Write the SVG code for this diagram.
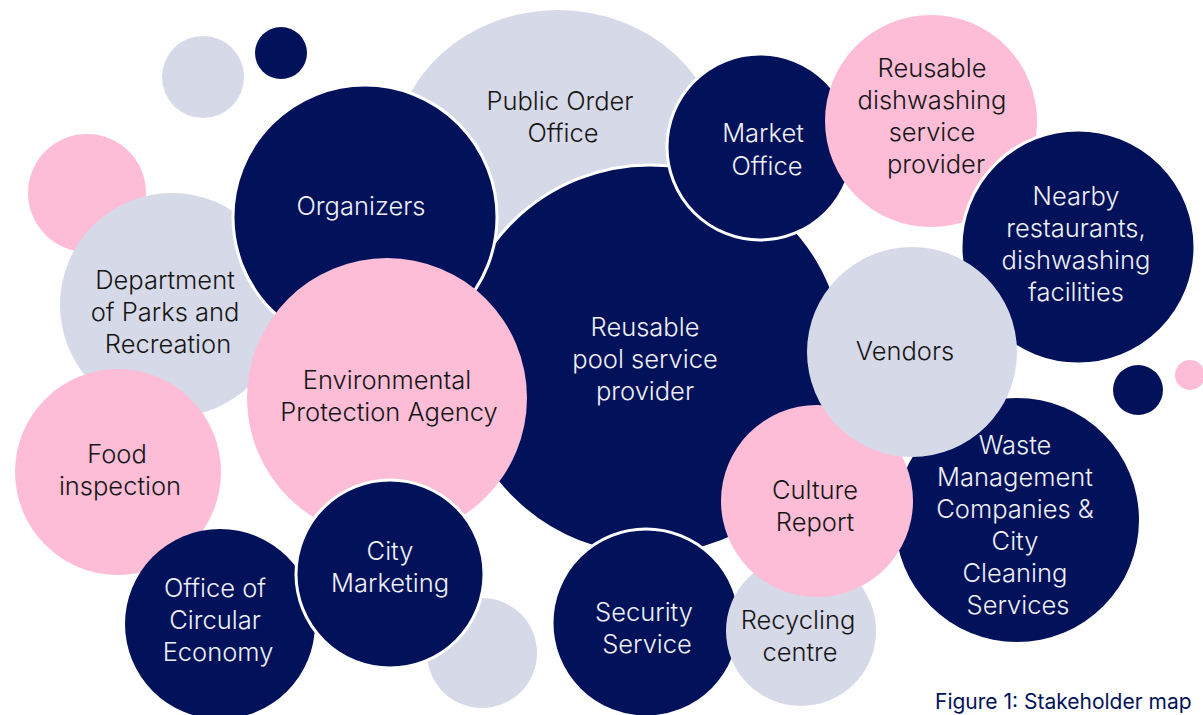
<svg xmlns="http://www.w3.org/2000/svg" width="1203" height="715" viewBox="0 0 1203 715">
  <style>
    .navy { fill: #02125a; }
    .grey { fill: #d6d9e8; }
    .pink { fill: #fdbdd7; }
    .edge { stroke: #ffffff; stroke-width: 3; }
    text { font-family: Inter, "Noto Sans", "Liberation Sans", sans-serif; font-size: 25.5px; font-weight: 300; text-anchor: middle; }
    .dark { fill: #161616; }
    .light { fill: #eef0f7; }
    .caption { font-size: 21px; font-weight: 400; text-anchor: start; fill: #02125a; }
  </style>
  <rect width="1203" height="715" fill="#ffffff"/>

  <!-- decorative bubbles -->
  <g id="decor-top">
    <circle class="grey" cx="203" cy="77" r="41"/>
    <circle class="navy" cx="281" cy="53" r="26"/>
    <circle class="pink" cx="87" cy="193" r="59"/>
  </g>

  <g id="public-order-office">
    <ellipse class="grey" cx="558" cy="160" rx="165" ry="150"/>
    <text class="dark" x="560" y="110">Public Order</text>
    <text class="dark" x="563" y="142">Office</text>
  </g>

  <g id="parks-recreation">
    <circle class="grey" cx="172" cy="305" r="112"/>
    <text class="dark" x="165" y="289">Department</text>
    <text class="dark" x="165" y="321">of Parks and</text>
    <text class="dark" x="168" y="353">Recreation</text>
  </g>

  <g id="pool-provider">
    <circle class="navy edge" cx="650" cy="360" r="195"/>
    <text class="light" x="645" y="336">Reusable</text>
    <text class="light" x="645" y="368">pool service</text>
    <text class="light" x="645" y="400">provider</text>
  </g>

  <g id="organizers">
    <circle class="navy edge" cx="365" cy="217" r="132"/>
    <text class="light" x="361" y="215">Organizers</text>
  </g>

  <g id="market-office">
    <circle class="navy edge" cx="760" cy="147" r="93"/>
    <text class="light" x="763" y="142">Market</text>
    <text class="light" x="767" y="175">Office</text>
  </g>

  <g id="dishwashing-provider">
    <circle class="pink" cx="931" cy="121" r="106"/>
    <text class="dark" x="932" y="77">Reusable</text>
    <text class="dark" x="932" y="109">dishwashing</text>
    <text class="dark" x="932" y="141">service</text>
    <text class="dark" x="936" y="173">provider</text>
  </g>

  <g id="nearby-restaurants">
    <circle class="navy edge" cx="1078" cy="247" r="117"/>
    <text class="light" x="1076" y="205">Nearby</text>
    <text class="light" x="1076" y="237">restaurants,</text>
    <text class="light" x="1076" y="269">dishwashing</text>
    <text class="light" x="1076" y="301">facilities</text>
  </g>

  <g id="food-inspection">
    <circle class="pink" cx="118" cy="472" r="103"/>
    <text class="dark" x="117" y="463">Food</text>
    <text class="dark" x="120" y="495">inspection</text>
  </g>

  <g id="environmental-agency">
    <circle class="pink" cx="387" cy="398" r="140"/>
    <text class="dark" x="387" y="389">Environmental</text>
    <text class="dark" x="389" y="421">Protection Agency</text>
  </g>

  <g id="circular-economy">
    <circle class="navy" cx="220" cy="624" r="95"/>
    <text class="light" x="215" y="597">Office of</text>
    <text class="light" x="215" y="629">Circular</text>
    <text class="light" x="218" y="661">Economy</text>
  </g>

  <g id="decor-bottom">
    <circle class="grey" cx="482" cy="653" r="55"/>
  </g>

  <g id="city-marketing">
    <circle class="navy edge" cx="390" cy="574" r="94"/>
    <text class="light" x="390" y="560">City</text>
    <text class="light" x="390" y="592">Marketing</text>
  </g>

  <g id="waste-management">
    <circle class="navy" cx="1017" cy="520" r="122"/>
    <text class="light" x="1015" y="454">Waste</text>
    <text class="light" x="1015" y="486">Management</text>
    <text class="light" x="1015" y="518">Companies &amp;</text>
    <text class="light" x="1015" y="550">City</text>
    <text class="light" x="1015" y="582">Cleaning</text>
    <text class="light" x="1018" y="614">Services</text>
  </g>

  <g id="security-service">
    <circle class="navy edge" cx="646" cy="623" r="94"/>
    <text class="light" x="644" y="621">Security</text>
    <text class="light" x="647" y="653">Service</text>
  </g>

  <g id="recycling-centre">
    <circle class="grey" cx="801" cy="631" r="75"/>
    <text class="dark" x="798" y="629">Recycling</text>
    <text class="dark" x="800" y="661">centre</text>
  </g>

  <g id="culture-report">
    <circle class="pink" cx="817" cy="501" r="96"/>
    <text class="dark" x="815" y="499">Culture</text>
    <text class="dark" x="815" y="531">Report</text>
  </g>

  <g id="vendors">
    <circle class="grey" cx="912" cy="352" r="105"/>
    <text class="dark" x="905" y="360">Vendors</text>
  </g>

  <g id="decor-right">
    <circle class="navy" cx="1138" cy="390" r="25"/>
    <circle class="pink" cx="1190" cy="375" r="15"/>
  </g>

  <!-- no connectors in this bubble map -->
  <g id="connectors"/>

  <text class="caption" x="935" y="709">Figure 1: Stakeholder map</text>
</svg>
